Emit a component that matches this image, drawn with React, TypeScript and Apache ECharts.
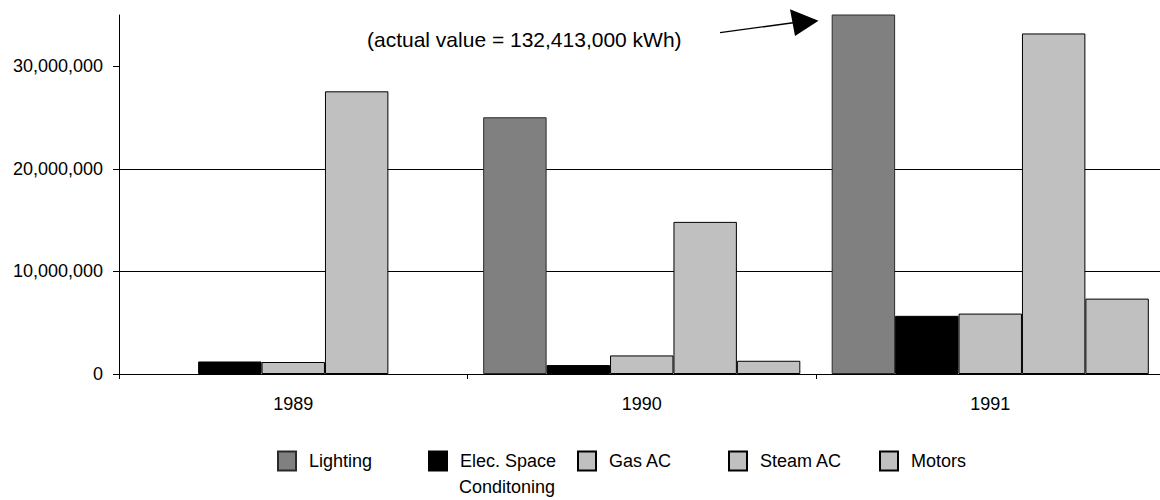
import React, { useEffect, useRef } from "react";
import * as echarts from "echarts";

const years = ["1989", "1990", "1991"];
const seriesNames = ["Lighting", "Elec. Space Conditoning", "Gas AC", "Steam AC", "Motors"];
const legendLabels = ["Lighting", "Elec. Space", "Gas AC", "Steam AC", "Motors"];
const legendSecondLine = "Conditoning";
const lighting = [null, 25030000, 132413000];
const elecSpace = [1220000, 870000, 5670000];
const gasAC = [1170000, 1810000, 5890000];
const steamAC = [27560000, 14830000, 33200000];
const motors = [null, 1290000, 7350000];
const yTicks = [0, 10000000, 20000000, 30000000];
const yMax = 35000000;
const annotation = "(actual value = 132,413,000 kWh)";

const colors = ["#808080", "#000000", "#c0c0c0", "#c0c0c0", "#c0c0c0"];
const borders = ["#2a2a2a", "#000000", "#000000", "#000000", "#000000"];
const legendLefts = [277, 428, 577, 728, 879];
const FONT = '"Liberation Sans", Arial, sans-serif';

export default function App() {
  const ref = useRef<HTMLDivElement>(null);
  useEffect(() => {
    if (!ref.current) return;
    document.body.style.overflow = "hidden";
    const chart = echarts.init(ref.current, undefined, { renderer: "svg" });
    const allData = [lighting, elecSpace, gasAC, steamAC, motors];
    const series = seriesNames.map((name, i) => ({
      name,
      type: "bar",
      data: allData[i],
      clip: true,
      barGap: "0%",
      barCategoryGap: "9%",
      itemStyle: { color: colors[i], borderColor: borders[i], borderWidth: 1 },
      emphasis: { disabled: true },
    }));
    const legends = seriesNames.map((name, i) => ({
      show: true,
      data: [name],
      left: legendLefts[i],
      top: 447,
      padding: 0,
      orient: "horizontal",
      icon: "rect",
      itemWidth: 18,
      itemHeight: 19,
      selectedMode: false,
      formatter: () => legendLabels[i],
      textStyle: {
        fontSize: 18,
        fontFamily: FONT,
        color: "#000",
        lineHeight: 20,
        padding: [8, 0, 0, 8],
      },
    }));
    chart.setOption({
      animation: false,
      backgroundColor: "#fff",
      textStyle: { fontFamily: FONT },
      grid: { left: 119, right: 1.5, top: 15, bottom: 126, containLabel: false },
      legend: legends,
      xAxis: {
        type: "category",
        data: years,
        axisLine: { lineStyle: { color: "#000", width: 1 } },
        axisTick: { show: true, length: 5, lineStyle: { color: "#000" } },
        axisLabel: { fontSize: 18, fontFamily: FONT, color: "#000", margin: 21 },
        splitLine: { show: false },
      },
      yAxis: {
        type: "value",
        min: 0,
        max: yMax,
        interval: 10000000,
        axisLine: { show: true, lineStyle: { color: "#000", width: 1 } },
        axisTick: { show: true, length: 6, lineStyle: { color: "#000" }, customValues: yTicks },
        axisLabel: {
          fontSize: 18,
          fontFamily: FONT,
          color: "#000",
          margin: 16,
          customValues: yTicks,
          formatter: (v: number) => v.toLocaleString("en-US"),
        },
        splitLine: { show: true, showMaxLine: false, lineStyle: { color: "#000", width: 1 } },
      },
      series,
      graphic: [
        {
          type: "text",
          left: 367,
          top: 29,
          style: { text: annotation, font: `21px ${FONT}`, fill: "#000" },
        },
        {
          type: "line",
          shape: { x1: 720, y1: 32.7, x2: 795, y2: 22.5 },
          style: { stroke: "#000", lineWidth: 1.3 },
        },
        {
          type: "polygon",
          shape: { points: [[790, 9.3], [818.5, 20.7], [795, 36]] },
          style: { fill: "#000" },
        },
        {
          type: "text",
          left: 459,
          top: 478,
          style: { text: legendSecondLine, font: `18px ${FONT}`, fill: "#000" },
        },
      ],
    });
    return () => chart.dispose();
  }, []);
  return (
    <div
      ref={ref}
      style={{ position: "fixed", left: 0, top: 0, width: 1166, height: 500, background: "#fff" }}
    />
  );
}
